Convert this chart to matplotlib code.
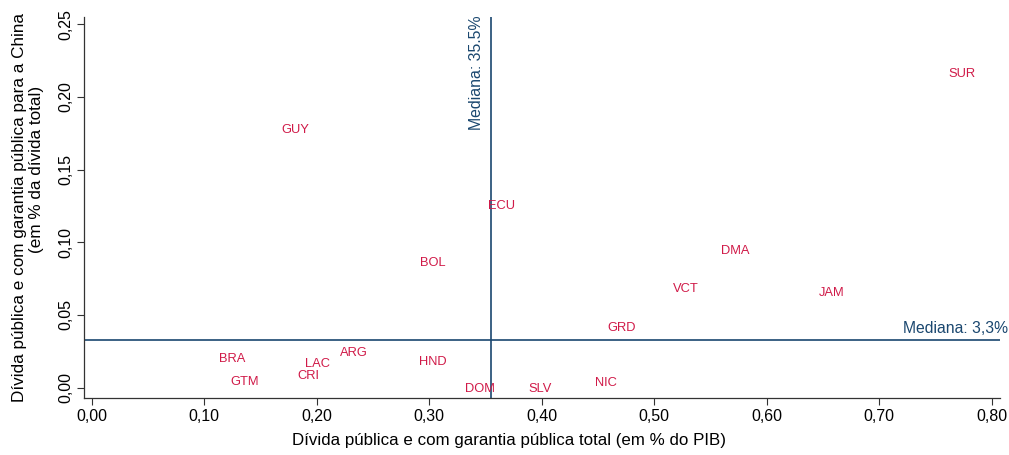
import matplotlib
matplotlib.use("Agg")
import matplotlib.pyplot as plt

plt.rcParams['font.family'] = ['Liberation Sans', 'DejaVu Sans']

# Country codes with total public debt (% GDP) and share owed to China
countries = ["SUR", "GUY", "ECU", "BOL", "DMA", "VCT", "JAM", "GRD",
             "BRA", "GTM", "LAC", "CRI", "ARG", "HND", "DOM", "SLV", "NIC"]
debt_gdp = [0.774, 0.181, 0.364, 0.303, 0.572, 0.528, 0.658, 0.471,
            0.125, 0.136, 0.201, 0.193, 0.233, 0.303, 0.345, 0.399, 0.457]
china_share = [0.216, 0.177, 0.125, 0.086, 0.094, 0.068, 0.065, 0.041,
               0.020, 0.004, 0.016, 0.008, 0.024, 0.018, -0.001, -0.001, 0.003]

median_x = 0.355
median_y = 0.033

x_ticks = [0.0, 0.1, 0.2, 0.3, 0.4, 0.5, 0.6, 0.7, 0.8]
x_ticklabels = ["0,00", "0,10", "0,20", "0,30", "0,40", "0,50", "0,60", "0,70", "0,80"]
y_ticks = [0.0, 0.05, 0.10, 0.15, 0.20, 0.25]
y_ticklabels = ["0,00", "0,05", "0,10", "0,15", "0,20", "0,25"]

label_color = "#d01a48"
navy = "#1a476f"

fig = plt.figure(figsize=(10.09, 4.55), dpi=100)
ax = fig.add_axes([84 / 1009, 1 - 397.7 / 455, (1000 - 84) / 1009, (397.7 - 17) / 455])

for name, xv, yv in zip(countries, debt_gdp, china_share):
    ax.text(xv, yv, name, color=label_color, fontsize=9.3, ha="center", va="center")

ax.axvline(median_x, color=navy, lw=1.2)
ax.axhline(median_y, color=navy, lw=1.2)

ax.annotate("Mediana: 35.5%", xy=(median_x, 1.0), xycoords=("data", "axes fraction"),
            xytext=(-5, 1), textcoords="offset points", rotation=90, ha="right", va="top",
            color=navy, fontsize=11.4, annotation_clip=False)
ax.annotate("Mediana: 3,3%", xy=(1.0, median_y), xycoords=("axes fraction", "data"),
            xytext=(6, 3), textcoords="offset points", ha="right", va="bottom",
            color=navy, fontsize=11.3, annotation_clip=False)

ax.set_xlim(-0.0068, 0.8075)
ax.set_ylim(-0.0069, 0.255)
ax.set_xticks(x_ticks)
ax.set_xticklabels(x_ticklabels, fontsize=11.5)
ax.set_yticks(y_ticks)
ax.set_yticklabels(y_ticklabels, fontsize=11.5, rotation=90, va="center")
ax.tick_params(direction="out", length=5, width=0.8, color="#333333", pad=3)

for side in ("top", "right"):
    ax.spines[side].set_visible(False)
for side in ("left", "bottom"):
    ax.spines[side].set_linewidth(0.9)
    ax.spines[side].set_color("#333333")

fig.text(509 / 1009, 1 - 441 / 455, "Dívida pública e com garantia pública total (em % do PIB)",
         ha="center", va="center", fontsize=12.2)
fig.text(20 / 1009, 1 - 207 / 455, "Dívida pública e com garantia pública para a China",
         ha="center", va="center", rotation=90, fontsize=12.3)
fig.text(37 / 1009, 1 - 169 / 455, "(em % da dívida total)",
         ha="center", va="center", rotation=90, fontsize=12.3)

fig.savefig("out.png", dpi=100)
